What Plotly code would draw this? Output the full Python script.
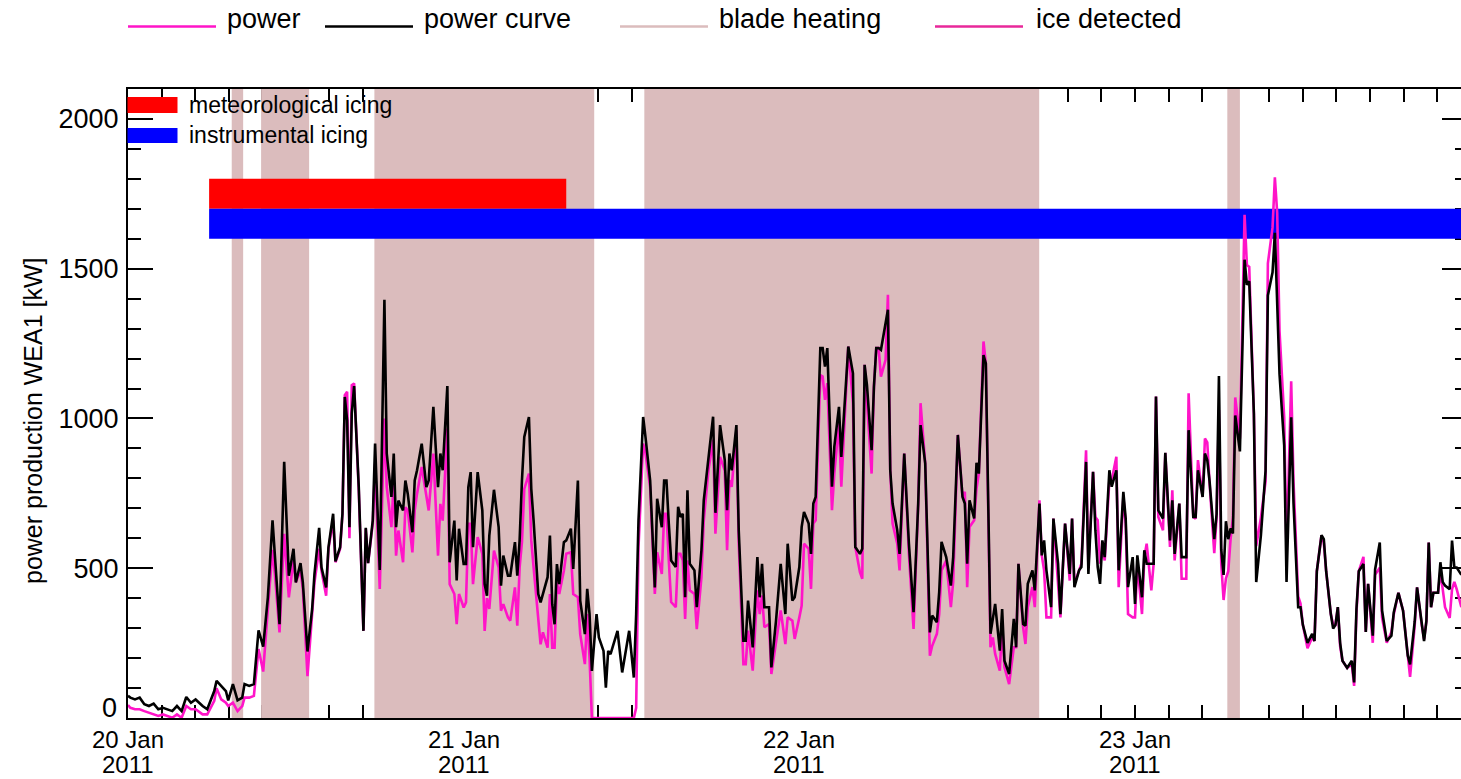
import pandas as pd
import plotly.graph_objects as go

# ---------------------------------------------------------------- data
START = pd.Timestamp("2011-01-20 00:00")

# sample times, minutes after 20 Jan 2011 00:00
minutes = [
    0, 10, 30, 50, 70, 90, 110, 130, 150, 170, 190, 210, 230, 250, 270, 290, 320, 340, 370, 380,
    400, 420, 430, 450, 470, 490, 500, 520, 540, 560, 580, 600, 620, 630, 650, 670, 690, 710, 720, 740,
    750, 770, 790, 800, 820, 830, 850, 860, 880, 890, 910, 920, 930, 940, 950, 960, 970, 990, 1010, 1020,
    1030, 1050, 1060, 1080, 1100, 1110, 1130, 1140, 1150, 1160, 1180, 1190, 1200, 1220, 1230, 1240, 1260, 1280, 1290, 1310,
    1330, 1340, 1350, 1370, 1380, 1400, 1410, 1420, 1440, 1450, 1460, 1470, 1480, 1500, 1520, 1530, 1540, 1550, 1570, 1590,
    1600, 1610, 1630, 1640, 1660, 1670, 1680, 1690, 1700, 1720, 1730, 1740, 1760, 1770, 1780, 1800, 1810, 1820, 1830, 1840,
    1850, 1870, 1880, 1900, 1910, 1930, 1940, 1960, 1970, 1980, 1990, 2010, 2020, 2040, 2050, 2060, 2070, 2090, 2100, 2120,
    2130, 2150, 2170, 2180, 2190, 2210, 2220, 2240, 2250, 2260, 2270, 2290, 2300, 2310, 2320, 2330, 2350, 2360, 2370, 2380,
    2390, 2400, 2410, 2430, 2440, 2460, 2470, 2490, 2510, 2520, 2540, 2560, 2570, 2580, 2590, 2610, 2620, 2640, 2650, 2660,
    2680, 2700, 2710, 2720, 2730, 2750, 2760, 2780, 2800, 2820, 2830, 2850, 2860, 2880, 2890, 2900, 2920, 2930, 2940, 2950,
    2970, 2980, 2990, 3000, 3020, 3030, 3050, 3060, 3080, 3090, 3110, 3120, 3140, 3150, 3160, 3170, 3190, 3200, 3210, 3220,
    3230, 3250, 3260, 3270, 3280, 3300, 3310, 3330, 3350, 3370, 3390, 3400, 3420, 3440, 3450, 3470, 3480, 3490, 3510, 3530,
    3540, 3560, 3580, 3590, 3600, 3610, 3630, 3640, 3650, 3670, 3680, 3700, 3710, 3720, 3740, 3750, 3760, 3780, 3800, 3810,
    3820, 3840, 3850, 3860, 3880, 3890, 3910, 3920, 3930, 3940, 3960, 3970, 3990, 4000, 4020, 4040, 4050, 4060, 4080, 4090,
    4110, 4120, 4140, 4150, 4160, 4170, 4180, 4190, 4210, 4220, 4240, 4250, 4270, 4280, 4290, 4310, 4320, 4330, 4350, 4360,
    4370, 4390, 4400, 4410, 4420, 4440, 4450, 4470, 4480, 4490, 4510, 4520, 4540, 4550, 4570, 4580, 4590, 4610, 4620, 4630,
    4640, 4660, 4670, 4680, 4690, 4700, 4710, 4720, 4730, 4740, 4750, 4770, 4790, 4800, 4810, 4830, 4840, 4860, 4880, 4890,
    4910, 4920, 4930, 4940, 4960, 4970, 4990, 5000, 5020, 5030, 5040, 5060, 5080, 5090, 5100, 5120, 5130, 5140, 5160, 5170,
    5180, 5190, 5200, 5210, 5230, 5250, 5260, 5270, 5280, 5300, 5310, 5320, 5340, 5350, 5370, 5380, 5400, 5420, 5430, 5450,
    5470, 5490, 5500, 5520, 5530, 5550, 5560, 5570, 5580, 5590, 5600, 5620, 5630, 5640, 5650, 5670, 5680, 5690, 5700, 5720,
]

# power expected from the power curve [kW]
power_curve_kw = [
    74, 68, 62, 68, 46, 40, 48, 29, 34, 29, 23, 40, 23, 70, 51, 62, 40, 29, 90, 124,
    107, 90, 59, 113, 59, 68, 113, 107, 113, 293, 238, 403, 660, 548, 313, 855, 475, 565, 453, 517,
    453, 222, 364, 481, 635, 503, 436, 570, 682, 523, 570, 682, 1072, 994, 637, 1017, 1108, 771, 291, 635,
    517, 660, 916, 494, 1396, 883, 738, 883, 637, 726, 693, 793, 749, 620, 793, 827, 916, 771, 793, 1039,
    771, 883, 827, 1108, 520, 659, 459, 632, 514, 514, 771, 821, 570, 821, 693, 447, 408, 609, 762, 637,
    442, 542, 475, 475, 587, 475, 593, 793, 938, 1005, 765, 659, 414, 386, 414, 470, 609, 380, 313, 514,
    447, 587, 593, 632, 498, 793, 392, 280, 431, 347, 157, 347, 269, 224, 101, 224, 213, 269, 291, 152,
    202, 291, 135, 347, 659, 1005, 938, 793, 615, 436, 732, 637, 793, 793, 649, 526, 504, 705, 671, 682,
    403, 760, 515, 493, 370, 560, 727, 861, 1006, 685, 978, 861, 694, 883, 827, 978, 627, 258, 258, 392,
    236, 537, 403, 515, 370, 370, 169, 325, 515, 347, 582, 392, 403, 504, 638, 688, 649, 548, 716, 738,
    1235, 1235, 1173, 1235, 772, 905, 1039, 872, 1140, 1240, 1151, 571, 548, 565, 1179, 1112, 894, 1106, 1235, 1235,
    1229, 1318, 1363, 827, 716, 627, 548, 883, 582, 353, 716, 978, 850, 286, 342, 320, 420, 588, 537, 442,
    537, 945, 738, 716, 515, 727, 666, 852, 816, 1212, 1184, 281, 325, 381, 225, 364, 191, 147, 331, 236,
    515, 314, 308, 448, 493, 426, 716, 543, 593, 493, 370, 666, 515, 347, 649, 481, 666, 437, 493, 504,
    855, 481, 822, 627, 504, 448, 593, 537, 827, 772, 827, 493, 755, 666, 437, 537, 381, 543, 403, 560,
    515, 515, 515, 1073, 693, 666, 885, 593, 727, 548, 716, 537, 537, 961, 671, 671, 827, 738, 883, 861,
    789, 597, 681, 1142, 562, 478, 657, 597, 633, 616, 1010, 890, 1530, 1446, 1458, 1016, 454, 610, 825, 1411,
    1488, 1620, 1375, 1148, 909, 454, 1004, 717, 370, 370, 311, 251, 281, 257, 490, 610, 597, 490, 347, 299,
    311, 370, 251, 191, 167, 191, 119, 364, 490, 514, 287, 448, 275, 496, 586, 358, 257, 275, 352, 418,
    358, 209, 179, 323, 436, 311, 257, 323, 586, 370, 418, 418, 520, 454, 442, 430, 592, 502, 502, 478,
]

# measured power production [kW]
power_kw = [
    43, 34, 29, 29, 23, 18, 12, 7, 12, 7, 1, 12, 1, 40, 29, 29, 12, 12, 57, 99,
    62, 51, 40, 51, 23, 40, 68, 68, 74, 230, 155, 364, 561, 481, 286, 615, 403, 526, 453, 492,
    431, 140, 347, 453, 565, 492, 408, 565, 660, 520, 565, 682, 1078, 1089, 600, 1111, 1117, 760, 291, 632,
    517, 648, 849, 431, 1000, 771, 637, 793, 542, 626, 520, 704, 693, 553, 693, 749, 838, 749, 693, 883,
    542, 715, 659, 966, 447, 414, 313, 414, 369, 386, 648, 648, 447, 604, 548, 291, 400, 364, 559, 503,
    358, 380, 336, 325, 436, 308, 503, 587, 765, 816, 593, 503, 336, 246, 286, 235, 414, 235, 235, 453,
    414, 492, 548, 553, 414, 403, 280, 180, 347, 200, 0, 0, 0, 0, 0, 0, 0, 0, 0, 0,
    0, 0, 0, 34, 570, 916, 883, 771, 581, 414, 553, 481, 682, 682, 526, 387, 370, 548, 548, 526,
    331, 526, 426, 414, 297, 470, 660, 827, 928, 615, 872, 827, 560, 794, 772, 961, 582, 180, 180, 292,
    158, 426, 347, 409, 303, 314, 147, 258, 359, 247, 336, 325, 264, 336, 375, 582, 565, 431, 649, 660,
    1145, 1140, 1062, 1118, 694, 816, 984, 772, 1112, 1240, 1051, 571, 487, 465, 1179, 1051, 816, 1106, 1235, 1235,
    1140, 1196, 1413, 827, 649, 582, 493, 883, 548, 297, 716, 1051, 850, 208, 241, 281, 347, 493, 526, 370,
    454, 945, 738, 755, 437, 638, 660, 766, 816, 1257, 1184, 236, 269, 214, 158, 314, 169, 113, 236, 236,
    515, 303, 247, 370, 437, 370, 727, 543, 493, 336, 336, 666, 448, 336, 649, 459, 666, 448, 493, 515,
    894, 504, 822, 671, 660, 515, 560, 526, 794, 794, 872, 437, 738, 649, 347, 336, 336, 515, 347, 537,
    582, 426, 515, 1073, 671, 627, 885, 571, 760, 526, 716, 465, 465, 1084, 671, 665, 861, 738, 933, 920,
    783, 550, 669, 1028, 514, 394, 466, 490, 597, 669, 1070, 932, 1680, 1512, 1506, 1016, 574, 669, 789, 1518,
    1638, 1805, 1686, 1291, 1004, 550, 1124, 789, 406, 382, 311, 233, 269, 257, 490, 610, 585, 490, 347, 311,
    311, 370, 239, 191, 167, 179, 107, 352, 490, 538, 287, 448, 251, 478, 502, 334, 251, 287, 346, 418,
    358, 203, 137, 311, 436, 311, 263, 323, 586, 370, 418, 418, 490, 430, 370, 334, 430, 454, 430, 370,
]

# blade heating periods, minutes after 20 Jan 2011 00:00
heating_start_min = [445, 571, 1057, 2215, 4716]
heating_end_min = [494, 777, 2000, 3909, 4770]

# icing periods, minutes after 20 Jan 2011 00:00
icing_labels = ["meteorological icing", "instrumental icing"]
icing_start_min = [348, 348]
icing_end_min = [1880, 5760]

day_ticks = ["2011-01-20", "2011-01-21", "2011-01-22", "2011-01-23"]
day_labels = ["20 Jan", "21 Jan", "22 Jan", "23 Jan"]
year_labels = ["2011", "2011", "2011", "2011"]

y_ticks = [0, 500, 1000, 1500, 2000]

# ---------------------------------------------------------------- styling
FONT = "Liberation Sans, Arial, Helvetica, sans-serif"
C_POWER = "#ff14c8"
C_CURVE = "#000000"
C_HEAT = "#dbbcbd"
C_ICE = "#e8289a"
C_ICING = ["#ff0000", "#0000ff"]
ICING_BAND = [(1700, 1800), (1600, 1700)]   # vertical extent of each icing bar [kW]

W, H = 1461, 779
ML, MR, MT, MB = 128, 0, 89, 61
PW, PH = W - ML - MR, H - MT - MB
Y_MAX = 2100
PX_PER_DAY = 335.67
X_END = START + pd.Timedelta(days=PW / PX_PER_DAY)


def px_x(px):
    return (px - ML) / PW


def px_y(py):
    return (H - MB - py) / PH


def t(m):
    return START + pd.Timedelta(minutes=m)


times = [t(m) for m in minutes]

fig = go.Figure()

# blade heating bands
hx, hy = [], []
for a, b in zip(heating_start_min, heating_end_min):
    hx += [t(a), t(a), t(b), t(b), t(a), None]
    hy += [0, Y_MAX, Y_MAX, 0, 0, None]
fig.add_trace(go.Scatter(x=hx, y=hy, mode="lines", fill="toself", fillcolor=C_HEAT,
                         line=dict(width=0, color=C_HEAT), hoverinfo="skip", showlegend=False))

# icing bars
for lab, a, b, (lo, hi), col in zip(icing_labels, icing_start_min, icing_end_min, ICING_BAND, C_ICING):
    fig.add_trace(go.Scatter(x=[t(a), t(a), t(b), t(b), t(a)], y=[lo, hi, hi, lo, lo],
                             mode="lines", fill="toself", fillcolor=col,
                             line=dict(width=0, color=col), name=lab,
                             hoverinfo="skip", showlegend=False))

fig.add_trace(go.Scatter(x=times, y=power_kw, mode="lines", name="power",
                         line=dict(color=C_POWER, width=2.6), showlegend=False))
fig.add_trace(go.Scatter(x=times, y=power_curve_kw, mode="lines", name="power curve",
                         line=dict(color=C_CURVE, width=2.6), showlegend=False))

# carrier for the mirrored right-hand tick marks
fig.add_trace(go.Scatter(x=[START], y=[None], yaxis="y2", mode="lines",
                         showlegend=False, hoverinfo="skip"))

shapes = []
annotations = []

# legend above the plot
legend_items = [("power", C_POWER, 128, 216, 226),
                ("power curve", C_CURVE, 325, 413, 423),
                ("blade heating", C_HEAT, 620, 708, 718),
                ("ice detected", C_ICE, 935, 1023, 1035)]
for lab, col, x0, x1, xt in legend_items:
    shapes.append(dict(type="line", xref="paper", yref="paper",
                       x0=px_x(x0), x1=px_x(x1), y0=px_y(26.5), y1=px_y(26.5),
                       line=dict(color=col, width=2.5)))
    annotations.append(dict(text=lab, xref="paper", yref="paper", x=px_x(xt - 1), y=px_y(19),
                            xanchor="left", yanchor="middle", showarrow=False,
                            font=dict(family=FONT, size=27, color="black")))

# icing legend inside the plot
for lab, col, (y0, y1), yt in zip(icing_labels, C_ICING, [(97, 113), (128, 143)], [105, 135]):
    shapes.append(dict(type="rect", xref="paper", yref="paper", layer="above",
                       x0=px_x(127.5), x1=px_x(177.5), y0=px_y(y1), y1=px_y(y0),
                       fillcolor=col, line=dict(width=0)))
    annotations.append(dict(text=lab, xref="paper", yref="paper", x=px_x(187), y=px_y(yt),
                            xanchor="left", yanchor="middle", showarrow=False,
                            font=dict(family=FONT, size=23, color="black")))

# two-line date labels (day on top, year below)
for d, l1, l2 in zip(day_ticks, day_labels, year_labels):
    annotations.append(dict(text=l1, xref="x", yref="paper", x=d, y=px_y(739),
                            xanchor="center", yanchor="middle", showarrow=False,
                            borderpad=0, font=dict(family=FONT, size=24, color="black")))
    annotations.append(dict(text=l2, xref="x", yref="paper", x=d, y=px_y(764.5),
                            xanchor="center", yanchor="middle", showarrow=False,
                            borderpad=0, font=dict(family=FONT, size=24, color="black")))

# the zero label sits just above the bottom axis line
annotations.append(dict(text=str(y_ticks[0]), xref="paper", yref="paper", x=px_x(118), y=px_y(708),
                        xanchor="right", yanchor="middle", showarrow=False, borderpad=0,
                        font=dict(family=FONT, size=27, color="black")))

# y axis title
annotations.append(dict(text="power production WEA1 [kW]", xref="paper", yref="paper",
                        x=px_x(33), y=px_y(421), textangle=-90, xanchor="center", yanchor="middle",
                        showarrow=False, font=dict(family=FONT, size=25, color="black")))

fig.update_layout(
    width=W, height=H,
    margin=dict(l=ML, r=MR, t=MT, b=MB),
    paper_bgcolor="white", plot_bgcolor="white",
    showlegend=False,
    font=dict(family=FONT, size=26, color="black"),
    shapes=shapes, annotations=annotations,
    xaxis=dict(type="date", range=[START, X_END], showgrid=False, zeroline=False,
               showline=True, linecolor="black", linewidth=2, mirror="allticks",
               ticks="inside", tickmode="linear", tick0=START, dtick=86400000,
               ticklen=13, tickwidth=2, tickcolor="black", showticklabels=False,
               minor=dict(ticks="inside", tick0=START, dtick=8640000, ticklen=7,
                          tickwidth=2, tickcolor="black", showgrid=False),
               layer="below traces"),
    yaxis=dict(range=[0, Y_MAX], showgrid=False, zeroline=False,
               showline=True, linecolor="black", linewidth=2,
               ticks="inside", tickmode="array", tickvals=y_ticks,
               ticktext=[""] + [str(v) for v in y_ticks[1:]],
               ticklen=25, tickwidth=2, tickcolor="black",
               minor=dict(ticks="inside", tick0=0, dtick=100, ticklen=13, tickwidth=2,
                          tickcolor="black", showgrid=False),
               tickfont=dict(family=FONT, size=27, color="black"),
               ticklabelstandoff=2, layer="below traces"),
    yaxis2=dict(range=[0, Y_MAX], overlaying="y", side="right", anchor="x",
                showgrid=False, zeroline=False, showline=False,
                ticks="inside", tickmode="linear", tick0=0, dtick=500,
                ticklen=19, tickwidth=2, tickcolor="black", showticklabels=False,
                minor=dict(ticks="inside", tick0=0, dtick=100, ticklen=6, tickwidth=2,
                           tickcolor="black", showgrid=False),
                layer="below traces"),
)

fig.write_html("out.html")
